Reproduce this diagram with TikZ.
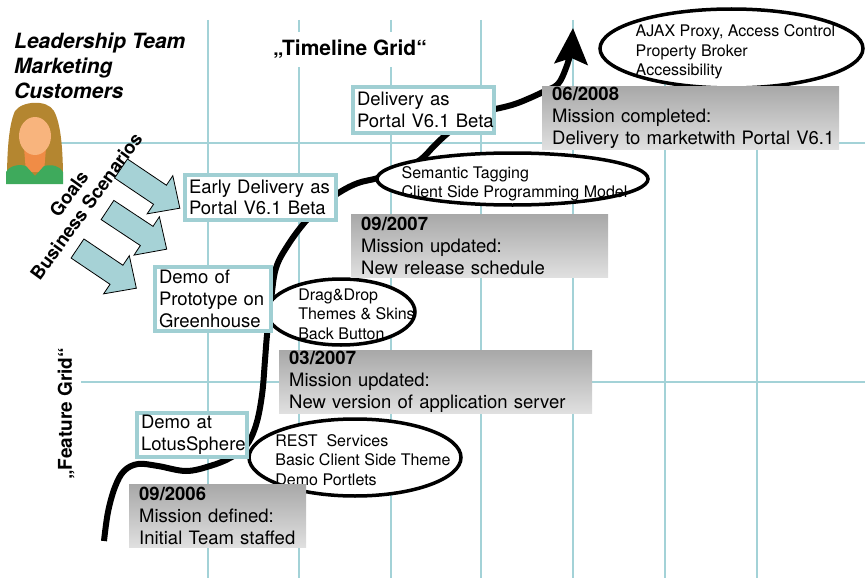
\documentclass[tikz,border=0pt]{standalone}
\usepackage{fontspec}
\setmainfont{TeX Gyre Heros}
\usetikzlibrary{arrows.meta,shapes.geometric}

\definecolor{gridc}{RGB}{163,210,215}
\definecolor{boxc}{RGB}{160,207,211}
\definecolor{arrowc}{RGB}{166,210,214}
\definecolor{gtop}{RGB}{168,168,168}
\definecolor{gbot}{RGB}{224,224,224}
\definecolor{hair}{RGB}{180,134,48}
\definecolor{skin}{RGB}{248,180,125}
\definecolor{chest}{RGB}{240,140,70}
\definecolor{shirt}{RGB}{62,170,92}

\begin{document}
\begin{tikzpicture}[x=1pt,y=-1pt,
  gridline/.style={draw=gridc,line width=1.4pt},
  milestone/.style={draw=boxc,line width=4pt,fill=white,align=left,
    inner xsep=4pt,inner ysep=0pt,font=\fontsize{18.5}{21.7}\selectfont},
  mission/.style={top color=gtop,bottom color=gbot,draw=none,align=left,
    inner xsep=10pt,inner ysep=0pt,minimum height=63pt,anchor=north west,
    font=\fontsize{18.5}{22}\selectfont},
  bubble/.style={ellipse,draw=black,line width=3.5pt,fill=white,inner sep=0pt},
  bubbletext/.style={align=left,inner sep=0pt,font=\fontsize{16}{19.5}\selectfont},
  bigarrow/.style={draw=black,line width=0.8pt,fill=arrowc},
  timeline/.style={line width=6pt,-{Stealth[length=36pt,width=33pt,inset=6pt]}}
]
\useasboundingbox (0,0) rectangle (865,578);

% background grid
\foreach \gx in {208,299,391,481,573,665,757}
  \draw[gridline] (\gx,20) -- (\gx,578);
\draw[gridline] (54,143) -- (865,143);
\draw[gridline] (81,382) -- (865,382);

% axis titles
\node[fill=white,font=\bfseries\fontsize{21}{25}\selectfont,minimum height=35pt,inner xsep=2pt]
  (tgrid) at (350,49.5) {„Timeline Grid“};
\node[rotate=90,font=\bfseries\fontsize{19}{23}\selectfont] (fgrid) at (66,414) {„Feature Grid“};

% stakeholders
\node[anchor=north west,align=left,inner sep=0pt,
  font=\bfseries\itshape\fontsize{21}{25}\selectfont]
  (roles) at (14,33) {Leadership Team\\Marketing\\Customers};
\node[rotate=54,align=center,font=\bfseries\fontsize{18.5}{21.5}\selectfont]
  (drivers) at (77.5,200) {Goals\\Business Scenarios};

% timeline curve
\draw[timeline] plot[smooth,tension=0.6] coordinates {
  (104,541) (108,512) (115,487) (124,471) (138,464) (158,466) (186,471)
  (210,466) (230,458) (246,446) (256,425) (262,395) (265,360) (267,335)
  (271,300) (276,268) (288,245) (305,222) (322,205) (340,192) (358,183)
  (378,178) (400,170) (420,160) (435,145) (448,133) (465,120) (482,112)
  (500,108) (515,104) (530,98) (545,91) (558,84) (566,68) (571,50) (573,28)};

% input arrows
\foreach \ax/\ay/\ang in {121/168.5/-34, 107.5/210/-33.5, 77.5/248.5/-34}
  \draw[bigarrow,shift={(\ax,\ay)},rotate=\ang]
    (0,-11.5) -- (47,-11.5) -- (47,-23) -- (71,0) -- (47,23) -- (47,11.5) -- (0,11.5) -- cycle;

% person icon
\fill[hair] (7,180) .. controls (7,150) and (9,124) .. (15,111)
  .. controls (22,101) and (47,99) .. (54,111)
  .. controls (61,124) and (63,150) .. (63,180) -- cycle;
\fill[chest] (24,148) -- (46,148) -- (44,172) -- (26,172) -- cycle;
\fill[skin] (35,136) ellipse [x radius=16pt, y radius=19pt];
\fill[shirt] (6,184) -- (6,172) .. controls (10,165) and (20,164) .. (26,166)
  -- (35,176) -- (44,166) .. controls (52,164) and (60,166) .. (63,172) -- (63,184) -- cycle;

% feature bubbles
\node[bubble,minimum width=212pt,minimum height=77pt] (rest) at (355,457.5) {};
\node[bubbletext] (resttxt) at (363,460) {REST\ \ Services\\Basic Client Side Theme\\Demo Portlets};
\node[bubble,minimum width=148pt,minimum height=66pt] (dnd) at (341,312) {};
\node[bubbletext] (dndtxt) at (356.5,314) {Drag\&Drop\\Themes \& Skins\\Back Button};
\node[bubble,minimum width=271pt,minimum height=52pt] (sem) at (512.5,179) {};
\node[bubbletext] (semtxt) at (514.5,184) {Semantic Tagging\\Client Side Programming Model};
\node[bubble,minimum width=263pt,minimum height=79pt] (ajax) at (731.5,48.5) {};
\node[bubbletext] (ajaxtxt) at (735.5,52) {AJAX Proxy, Access Control\\Property Broker\\Accessibility};

% mission notes
\node[mission,text width=157pt] (m06) at (129,484)
  {\textbf{09/2006}\\\mbox{Mission defined:}\\\mbox{Initial Team staffed}};
\node[mission,text width=293pt] (m07a) at (279,350)
  {\textbf{03/2007}\\\mbox{Mission updated:}\\\mbox{New version of application server}};
\node[mission,text width=237pt] (m07b) at (351,214)
  {\textbf{09/2007}\\\mbox{Mission updated:}\\\mbox{New release schedule}};
\node[mission,text width=277pt] (m08) at (542,86)
  {\textbf{06/2008}\\\mbox{Mission completed:}\\\mbox{Delivery to marketwith Portal V6.1}};

% milestones
\node[milestone,text width=102pt,minimum height=44pt] (lotus) at (192,435)
  {\mbox{Demo at}\\\mbox{LotusSphere}};
\node[milestone,text width=108pt,minimum height=64pt] (green) at (213,299)
  {\mbox{Demo of}\\\mbox{Prototype on}\\\mbox{Greenhouse}};
\node[milestone,text width=143pt,minimum height=45pt] (early) at (260.5,197.5)
  {\mbox{Early Delivery as}\\\mbox{Portal V6.1 Beta}};
\node[milestone,text width=133pt,minimum height=46pt] (beta) at (423.5,110)
  {\mbox{Delivery as}\\\mbox{Portal V6.1 Beta}};
\end{tikzpicture}
\end{document}
